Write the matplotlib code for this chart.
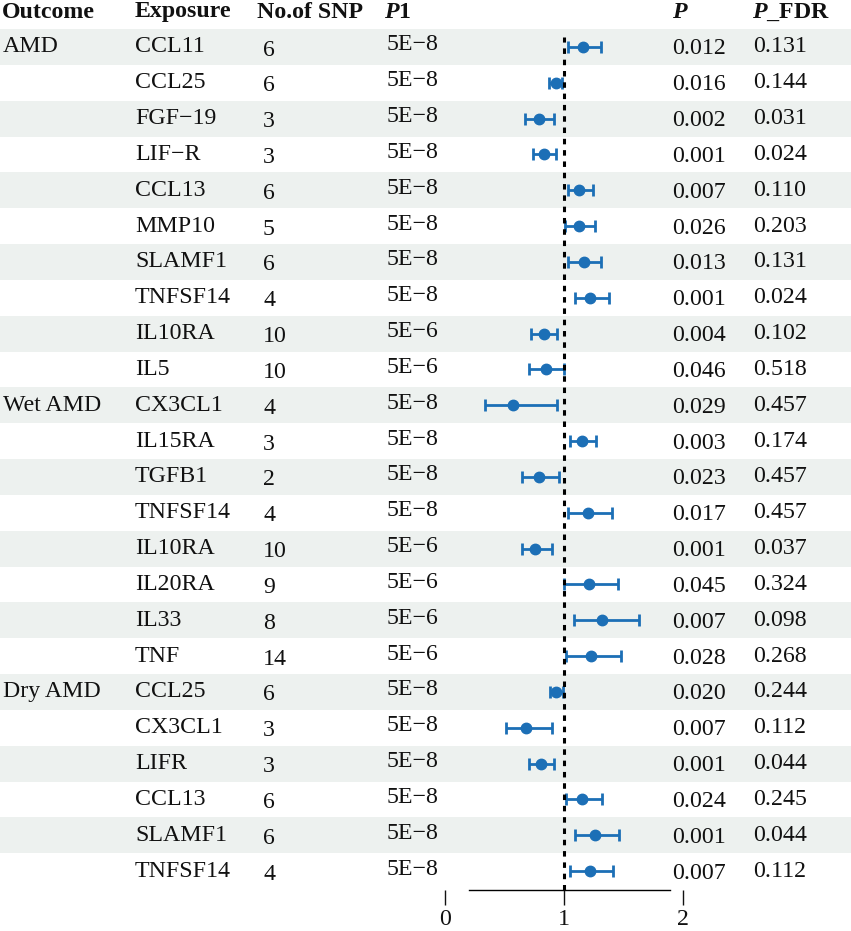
import numpy as np
import matplotlib.pyplot as plt

outcomes = ['AMD'] + [''] * 9 + ['Wet AMD'] + [''] * 7 + ['Dry AMD'] + [''] * 5
exposures = ['CCL11', 'CCL25', 'FGF\u221219', 'LIF\u2212R', 'CCL13', 'MMP10', 'SLAMF1', 'TNFSF14',
             'IL10RA', 'IL5',
             'CX3CL1', 'IL15RA', 'TGFB1', 'TNFSF14', 'IL10RA', 'IL20RA', 'IL33', 'TNF',
             'CCL25', 'CX3CL1', 'LIFR', 'CCL13', 'SLAMF1', 'TNFSF14']
n_snp = [6, 6, 3, 3, 6, 5, 6, 4, 10, 10,
         4, 3, 2, 4, 10, 9, 8, 14,
         6, 3, 3, 6, 6, 4]
p1 = ['5E\u22128'] * 8 + ['5E\u22126'] * 2 + ['5E\u22128'] * 4 + ['5E\u22126'] * 4 + ['5E\u22128'] * 6
p_val = ['0.012', '0.016', '0.002', '0.001', '0.007', '0.026', '0.013', '0.001', '0.004', '0.046',
         '0.029', '0.003', '0.023', '0.017', '0.001', '0.045', '0.007', '0.028',
         '0.020', '0.007', '0.001', '0.024', '0.001', '0.007']
p_fdr = ['0.131', '0.144', '0.031', '0.024', '0.110', '0.203', '0.131', '0.024', '0.102', '0.518',
         '0.457', '0.174', '0.457', '0.457', '0.037', '0.324', '0.098', '0.268',
         '0.244', '0.112', '0.044', '0.245', '0.044', '0.112']

# odds ratio with 95% CI
or_est = [1.16, 0.93, 0.79, 0.83, 1.13, 1.13, 1.17, 1.22, 0.83, 0.85,
          0.57, 1.15, 0.79, 1.20, 0.76, 1.21, 1.32, 1.23,
          0.93, 0.68, 0.81, 1.15, 1.26, 1.22]
or_lo = [1.03, 0.87, 0.67, 0.74, 1.03, 1.01, 1.03, 1.09, 0.72, 0.71,
         0.34, 1.05, 0.65, 1.03, 0.65, 1.00, 1.08, 1.02,
         0.88, 0.51, 0.71, 1.02, 1.09, 1.05]
or_hi = [1.31, 0.98, 0.92, 0.93, 1.24, 1.26, 1.31, 1.38, 0.94, 1.00,
         0.94, 1.27, 0.96, 1.40, 0.90, 1.45, 1.63, 1.48,
         0.99, 0.90, 0.92, 1.32, 1.46, 1.41]

W, H = 851, 931
row0, step = 47, 35.83
n = len(exposures)
band_col = '#edf1ef'
blue = '#1c6fb6'
serif = 'Liberation Serif'
fs = 17.2

plt.rcParams['mathtext.fontset'] = 'custom'
plt.rcParams['mathtext.bfit'] = serif + ':bold:italic'
plt.rcParams['mathtext.bf'] = serif + ':bold'
plt.rcParams['mathtext.rm'] = serif

fig = plt.figure(figsize=(W / 100, H / 100), dpi=100)

# table layer in pixel coordinates
tab = fig.add_axes([0, 0, 1, 1])
tab.set_xlim(0, W)
tab.set_ylim(H, 0)
tab.axis('off')

tkw = dict(family=serif, fontsize=fs, va='center', color='#111111')
for i in range(n):
    yc = row0 + i * step
    if i % 2 == 0:
        tab.axhspan(yc - step / 2, yc + step / 2, color=band_col, lw=0, zorder=0)
    tab.text(3, yc, outcomes[i], **tkw)
    tab.text(135, yc, exposures[i], **tkw)
    tab.text(263, yc + 3, str(n_snp[i]), **tkw)
    tab.text(387, yc - 2, p1[i], **tkw)
    tab.text(672, yc + 2, p_val[i], **tkw)
    tab.text(753, yc, p_fdr[i], **tkw)

hy = 12
hkw = dict(family=serif, fontsize=fs, fontweight='bold', va='center', color='#111111')
tab.text(2, hy, 'Outcome', **hkw)
tab.text(135, hy, 'Exposure', **hkw)
tab.text(257, hy, 'No.of SNP', **hkw)
tab.text(384, hy, '$\\mathbfit{P}$1', **hkw)
tab.text(672, hy, '$\\mathbfit{P}$', **hkw)
tab.text(752, hy, '$\\mathbfit{P}$_FDR', **hkw)

# forest plot layer: x 0..2 spans pixels 445..683
x0, x2 = 445, 683
ytop, ybot = 28, 890
ax = fig.add_axes([x0 / W, 1 - ybot / H, (x2 - x0) / W, (ybot - ytop) / H])
ax.patch.set_visible(False)
ax.set_xlim(0, 2)
ax.set_ylim((ybot - row0) / step, (ytop - row0) / step)

rows = np.arange(n)
est = np.array(or_est)
err = [est - np.array(or_lo), np.array(or_hi) - est]
ax.errorbar(est, rows, xerr=err, fmt='o', color=blue, ms=7.5, lw=2, capsize=4, capthick=2)
ax.axvline(1, color='black', lw=2.2, dashes=(1.8, 1.9), ymax=0.99)

for s in ['top', 'right', 'left']:
    ax.spines[s].set_visible(False)
ax.spines['bottom'].set_bounds(0.2, 1.89)
ax.spines['bottom'].set_linewidth(1)
ax.set_yticks([])
ax.set_xticks([0, 1, 2])
ax.tick_params(axis='x', length=11, width=1, pad=3, labelsize=fs, colors='#111111')
for lab in ax.get_xticklabels():
    lab.set_family(serif)

fig.savefig('out.png', dpi=100)
